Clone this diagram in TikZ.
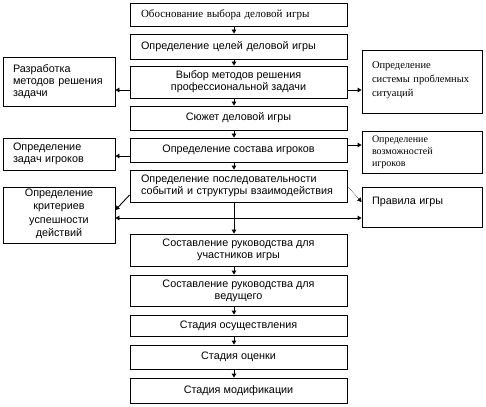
\documentclass[tikz,border=0pt]{standalone}
\usepackage{fontspec}
\setmainfont{Liberation Sans}
\newfontfamily\serifcyr{Liberation Serif}
\usetikzlibrary{arrows.meta,positioning,calc}

\begin{document}
\begin{tikzpicture}[x=1pt,y=-1pt,
    stage/.style={draw, line width=0.9pt, minimum width=217pt, inner sep=1pt, align=center, font=\fontsize{10.8}{12}\selectfont},
    stagel/.style={stage, text width=195pt, inner xsep=11pt, align=left},
    sidel/.style={draw, line width=0.9pt, text width=92pt, inner xsep=10pt, inner ysep=1pt, align=left, font=\fontsize{10.8}{12}\selectfont},
    sider/.style={sidel, text width=100pt},
    arr/.style={line width=0.9pt, -{Triangle[length=4pt,width=4.5pt]}},
    arrs/.style={line width=0.9pt, {Triangle[length=4pt,width=4.5pt]}-{Triangle[length=4pt,width=4.5pt]}}]
  \useasboundingbox (0,0) rectangle (486,406);

  % main column
  \node[stagel, minimum height=23pt, font=\serifcyr\fontsize{11}{12}\selectfont] (b1) at (238.5,14.5) {Обоснование выбора деловой игры};
  \node[stagel, minimum height=25pt] (b2) at (238.5,46.5) {Определение целей деловой игры};
  \node[stage, minimum height=32pt] (b3) at (238.5,82) {Выбор методов решения\\профессиональной задачи};
  \node[stage, minimum height=24pt] (b4) at (238.5,118) {Сюжет деловой игры};
  \node[stage, minimum height=24pt] (b5) at (238.5,150) {Определение состава игроков};
  \node[stagel, minimum height=32pt] (b6) at (238.5,186) {Определение последовательности\\событий и структуры взаимодействия};
  \node[stage, minimum height=32pt] (b7) at (238.5,250) {Составление руководства для\\участников игры};
  \node[stage, minimum height=31pt] (b8) at (238.5,290.5) {Составление руководства для\\ведущего};
  \node[stage, minimum height=21pt] (b9) at (238.5,325.5) {Стадия осуществления};
  \node[stage, minimum height=24pt] (b10) at (238.5,357) {Стадия оценки};
  \node[stage, minimum height=25pt] (b11) at (238.5,390.5) {Стадия модификации};

  % left column
  \node[sidel, minimum height=49pt] (l1) at (59,81.5) {Разработка\\методов решения\\задачи};
  \node[sidel, minimum height=32pt] (l2) at (59,154) {Определение\\задач игроков};
  \node[sidel, minimum height=56pt, align=center, font=\fontsize{10.8}{13.5}\selectfont] (l3) at (59,215) {\mbox{}\\[-8pt]Определение\\критериев\\успешности\\действий};

  % right column
  \node[sider, minimum height=63pt, font=\serifcyr\fontsize{10.5}{14}\selectfont] (r1) at (422,81.5) {Определение\\системы проблемных\\ситуаций\\[-9pt]\mbox{}};
  \node[sider, minimum height=42pt, font=\serifcyr\fontsize{10}{12}\selectfont] (r2) at (422,152) {Определение\\возможностей\\игроков};
  \node[sider, minimum height=40pt, text depth=12pt] (r3) at (422,207) {Правила игры};

  % arrows down the column
  \foreach \a/\b in {b1/b2,b2/b3,b3/b4,b4/b5,b5/b6,b6/b7,b7/b8,b8/b9,b9/b10,b10/b11}
    \draw[arr] ([xshift=-4.5pt]\a.south) -- ([xshift=-4.5pt]\b.north);

  % side arrows
  \draw[arr] ([yshift=-8pt]b3.west) -- ([yshift=-8pt]b3.west -| l1.east);
  \draw[arr] ([yshift=-8pt]b3.east) -- ([yshift=-8pt]b3.east -| r1.west);
  \draw[arr] ([yshift=-6pt]b5.west) -- ([yshift=-6pt]b5.west -| l2.east);
  \draw[arr] ([yshift=5pt]b5.east) -- ([yshift=5pt]b5.east -| r2.west);
  \draw[arr] ([yshift=-9pt]b6.west) -- ([yshift=5pt]l3.east);
  \draw[line width=0.5pt, densely dotted, -{Triangle[length=4pt,width=4.5pt]}] (b6.east) -- ([yshift=5pt]r3.west);
  \draw[arrs] ([yshift=-3pt]l3.east) -- ([yshift=-3pt]l3.east -| r3.west);
\end{tikzpicture}
\end{document}
